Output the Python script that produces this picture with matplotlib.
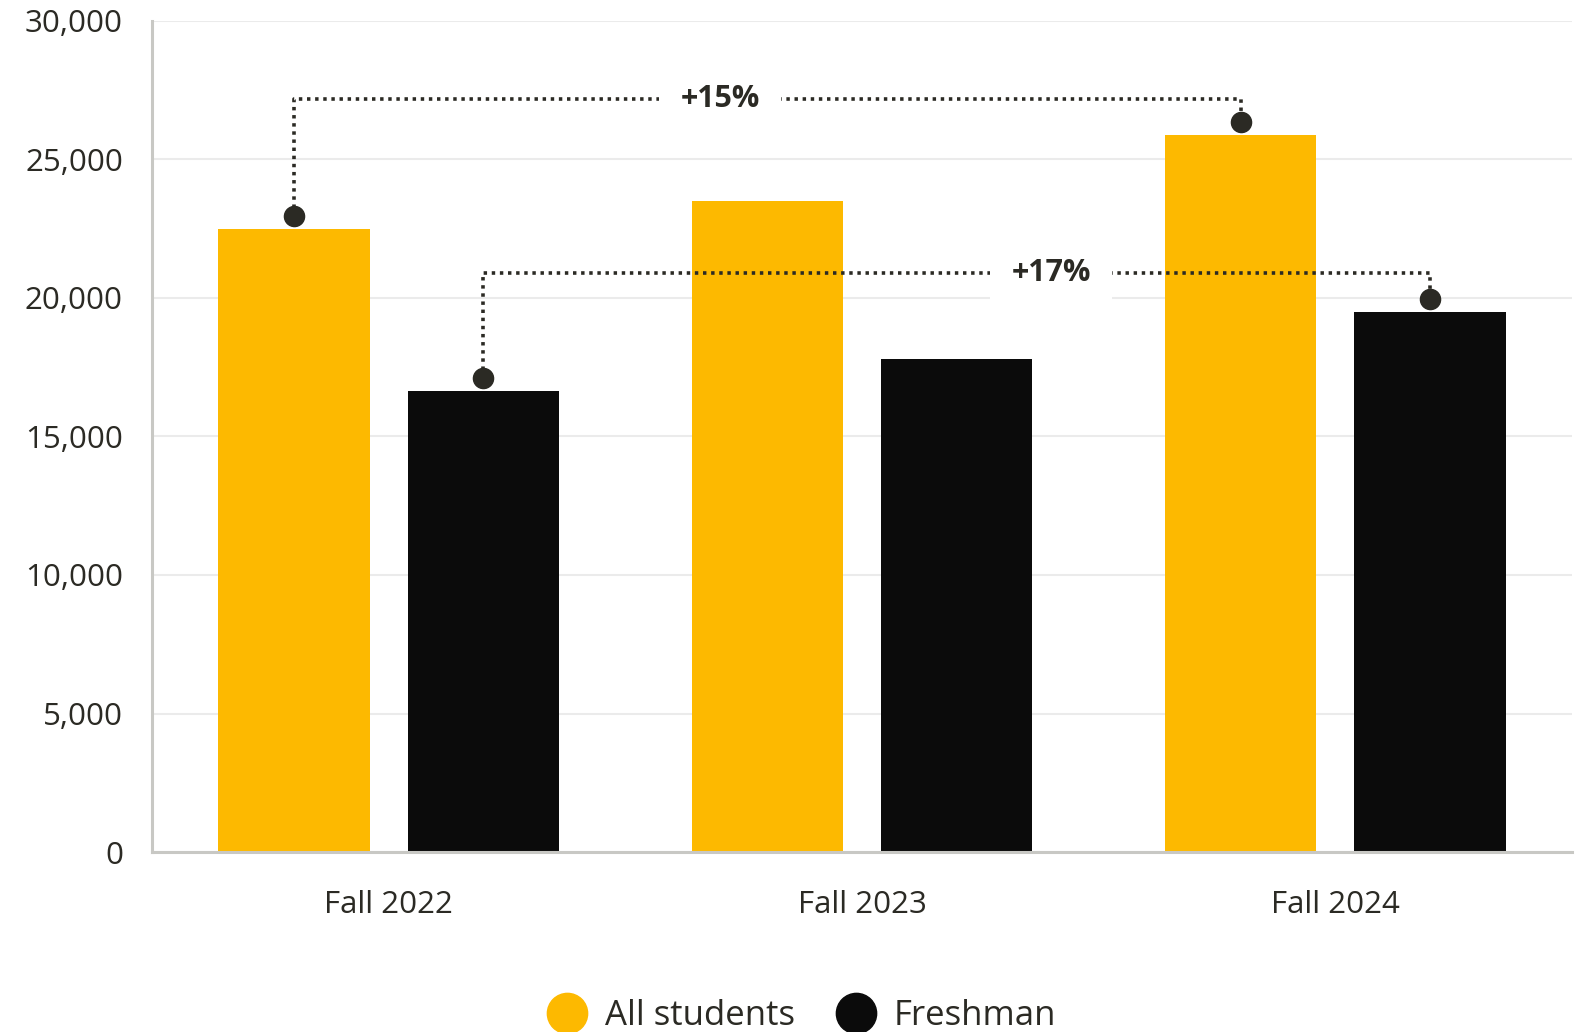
"""Enrollment bars for all students vs. freshmen, with growth brackets."""

import matplotlib
matplotlib.use("Agg")
import matplotlib.pyplot as plt
import numpy as np
from matplotlib.lines import Line2D
from matplotlib.ticker import StrMethodFormatter

plt.rcParams["font.family"] = ["Open Sans", "DejaVu Sans"]

# ------------------------------------------------------------
# data
# ------------------------------------------------------------
TERMS        = ["Fall 2022", "Fall 2023", "Fall 2024"]
ALL_STUDENTS = [22500, 23500, 25900]
FRESHMAN     = [16650, 17800, 19500]
SERIES_NAMES = ["All students", "Freshman"]

# ------------------------------------------------------------
# style
# ------------------------------------------------------------
YELLOW = "#FDB900"
BLACK  = "#0B0B0B"
INK    = "#2B2A24"
GRID   = "#EBEBEB"
SPINE  = "#C8C8C4"

BAR_W     = 0.32     # bar width in category units
BAR_OFF   = 0.20     # half distance between the two bars of a group
DOT_LIFT  = 450      # dot sits a little above the bar top
DOTTED    = (0, (0.95, 1.3))

fig = plt.figure(figsize=(15.84, 10.32), dpi=100)
ax = fig.add_axes([0.096, 0.1744, 0.8964, 0.8053])

x = np.arange(len(TERMS))
ax.bar(x - BAR_OFF, ALL_STUDENTS, width=BAR_W, color=YELLOW, zorder=2)
ax.bar(x + BAR_OFF, FRESHMAN, width=BAR_W, color=BLACK, zorder=2)

ax.set_xlim(-0.5, len(TERMS) - 0.5)
ax.set_ylim(0, 30000)
ax.set_yticks(np.arange(0, 30001, 5000))
ax.yaxis.set_major_formatter(StrMethodFormatter("{x:,.0f}"))
ax.set_xticks(x)
ax.set_xticklabels(TERMS)

ax.yaxis.grid(True, color=GRID, lw=1.5)
ax.set_axisbelow(True)
for side in ("top", "right"):
    ax.spines[side].set_visible(False)
for side in ("left", "bottom"):
    ax.spines[side].set_color(SPINE)
    ax.spines[side].set_linewidth(2.2)
ax.tick_params(axis="both", length=0, labelsize=22.5, labelcolor=INK)
ax.tick_params(axis="y", pad=21)
ax.tick_params(axis="x", pad=27)


def growth_bracket(values, offset, i0, i1, level, label_x):
    """Dotted bracket joining two bars, labelled with the percent change."""
    x0, x1 = i0 + offset, i1 + offset
    y0, y1 = values[i0] + DOT_LIFT, values[i1] + DOT_LIFT
    ax.plot([x0, x0, x1, x1], [y0, level, level, y1], ls=DOTTED, lw=2.6,
            color=INK, dash_capstyle="butt", zorder=3)
    ax.plot([x0, x1], [y0, y1], ls="none", marker="o", ms=14.5,
            color=INK, zorder=4)
    pct = round((values[i1] / values[i0] - 1) * 100)
    ax.text(label_x, level, f"+{pct}%", ha="center", va="center",
            fontsize=22, fontweight="bold", color=INK, zorder=5,
            bbox=dict(boxstyle="square,pad=0.7", fc="white", ec="none"))


growth_bracket(ALL_STUDENTS, -BAR_OFF, 0, 2, 27200, 0.70)
growth_bracket(FRESHMAN, BAR_OFF, 0, 2, 20900, 1.40)

handles = [Line2D([], [], ls="none", marker="o", ms=29, color=c)
           for c in (YELLOW, BLACK)]
fig.legend(handles, SERIES_NAMES, loc="center", bbox_to_anchor=(0.507, 0.0155),
           ncol=2, frameon=False, fontsize=25, labelcolor=INK,
           handlelength=1.0, handletextpad=0.6, columnspacing=1.25)

fig.savefig("out.png", dpi=100)
